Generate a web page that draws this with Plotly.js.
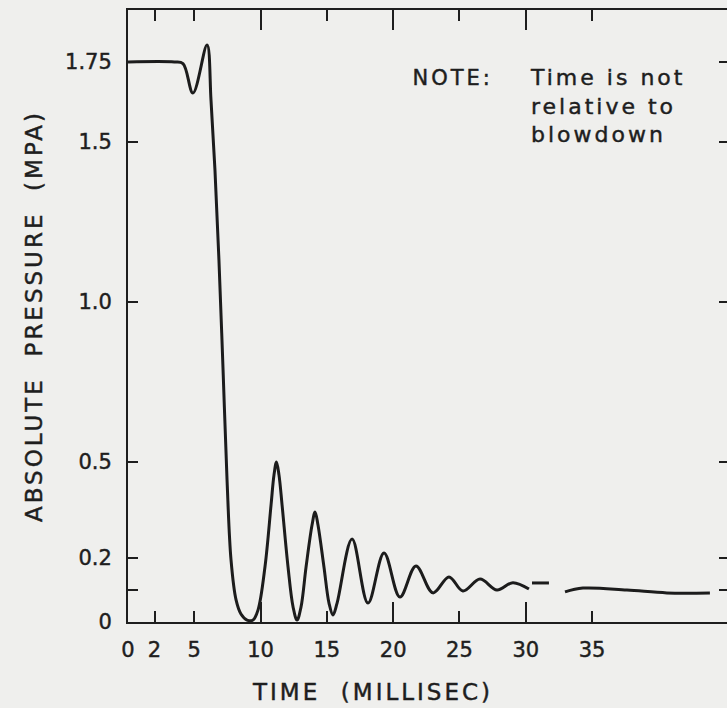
<!DOCTYPE html>
<html>
<head>
<meta charset="utf-8">
<script src="https://cdn.plot.ly/plotly-3.0.1.min.js"></script>
<style>
html, body { margin: 0; padding: 0; overflow: hidden; background: #efefed; }
#chart { width: 729px; height: 708px; }
#chart .ytitle, #chart .annotation-text { letter-spacing: 3px; }
#chart text { stroke: #1e1e1e; stroke-width: 0.45px; }
</style>
</head>
<body>
<div id="chart"></div>
<script>
// Time (ms) and absolute pressure (MPa); null = gap in the trace
const timeMs = [0, 3.5, 4.15, 4.9, 5.96, 6.26, 6.56, 6.86, 7.17, 7.47, 7.77, 8.15, 8.52, 8.98, 9.43,
  9.81, 10.33, 10.79, 11.01, 11.2, 11.39, 11.62, 12.07, 12.45, 12.75, 13.05, 13.43, 13.88, 14.11, 14.33,
  14.78, 15.16, 15.46, 15.77, 16.9, 18.1, 19.31, 20.51, 21.72, 23.0, 24.21, 25.26, 26.55, 27.83, 29.03, 30.24,
  null, 30.47, 31.75, null, 32.96, 34.31, 37.63, 40.65, 43.89];
const pressureMPa = [1.75, 1.75, 1.745, 1.653, 1.803, 1.631, 1.412, 1.131, 0.788, 0.444, 0.194, 0.069, 0.025, 0.006, 0.006,
  0.038, 0.172, 0.366, 0.459, 0.5, 0.459, 0.366, 0.172, 0.047, 0.006, 0.047, 0.172, 0.303, 0.344, 0.303,
  0.172, 0.059, 0.022, 0.059, 0.259, 0.059, 0.216, 0.078, 0.175, 0.091, 0.141, 0.097, 0.134, 0.1, 0.123, 0.103,
  null, 0.122, 0.122, null, 0.094, 0.106, 0.1, 0.091, 0.091];

const xTickVals = [0, 2, 5, 10, 15, 20, 25, 30, 35];
const xTickText = ["0", "2", "5", "10", "15", "20", "25", "30", "35"];
const xLongTickVals = [10, 20, 30];
const yTickVals = [0, 0.1, 0.2, 0.5, 1.0, 1.5, 1.75];
const yTickText = ["0", "", "0.2", "0.5", "1.0", "1.5", "1.75"];

const xTitle = "TIME&nbsp;&nbsp;(MILLISEC)";
const yTitle = "ABSOLUTE&nbsp;&nbsp;PRESSURE&nbsp;&nbsp;(MPA)";
const noteHead = "NOTE:";
const noteBody = "Time is not<br>relative to<br>blowdown";

const ink = "#1e1e1e";
const fontFam = "DejaVu Sans, Open Sans, sans-serif";

const trace = {
  x: timeMs, y: pressureMPa, type: "scatter", mode: "lines",
  line: { color: "#1c1c1c", width: 3, shape: "spline", smoothing: 1 },
  connectgaps: false, hoverinfo: "x+y", xaxis: "x", yaxis: "y"
};
const dummy = { x: [0], y: [0], type: "scatter", mode: "markers", marker: { opacity: 0 }, xaxis: "x2", yaxis: "y", hoverinfo: "skip", showlegend: false };

const layout = {
  width: 729, height: 708,
  margin: { l: 128, r: 0, t: 10, b: 86 },
  paper_bgcolor: "#efefed", plot_bgcolor: "#efefed",
  showlegend: false,
  font: { family: fontFam, color: ink, size: 21 },
  xaxis: {
    range: [0, 45.33], tickmode: "array", tickvals: xTickVals, ticktext: xTickText,
    ticks: "inside", ticklen: 11, tickwidth: 2, tickcolor: ink,
    showline: true, linecolor: ink, linewidth: 2, mirror: "ticks",
    showgrid: false, zeroline: false, ticklabelstandoff: 8,
    tickfont: { size: 21, color: ink, family: fontFam }
  },
  xaxis2: {
    range: [0, 45.33], overlaying: "x", tickmode: "array", tickvals: xLongTickVals,
    ticks: "inside", ticklen: 20, tickwidth: 2, tickcolor: ink,
    showline: false, mirror: "ticks", showticklabels: false, showgrid: false, zeroline: false, side: "bottom"
  },
  yaxis: {
    range: [0, 1.9125], tickmode: "array", tickvals: yTickVals, ticktext: yTickText,
    ticks: "inside", ticklen: 10, tickwidth: 2, tickcolor: ink,
    showline: true, linecolor: ink, linewidth: 2, mirror: "ticks",
    showgrid: false, zeroline: false, ticklabelstandoff: 10,
    tickfont: { size: 21, color: ink, family: fontFam },
    title: { text: yTitle, font: { size: 23, color: ink, family: fontFam }, standoff: 16 }
  },
  annotations: [
    { text: xTitle, xref: "paper", yref: "paper", x: (372 - 128) / 601, y: -70 / 612,
      xanchor: "center", yanchor: "middle", showarrow: false, font: { size: 23, color: ink, family: fontFam } },
    { text: noteHead, xref: "paper", yref: "paper", x: (418 - 128) / 601, y: (622 - 78) / 612,
      xanchor: "left", yanchor: "middle", showarrow: false, font: { size: 21, color: ink, family: fontFam } },
    { text: noteBody, xref: "paper", yref: "paper", x: (528 - 128) / 601, y: (622 - 63) / 612,
      xanchor: "left", yanchor: "top", align: "left", showarrow: false, font: { size: 22, color: ink, family: fontFam } }
  ]
};

Plotly.newPlot("chart", [trace, dummy], layout, { displayModeBar: false, staticPlot: true });
</script>
</body>
</html>
